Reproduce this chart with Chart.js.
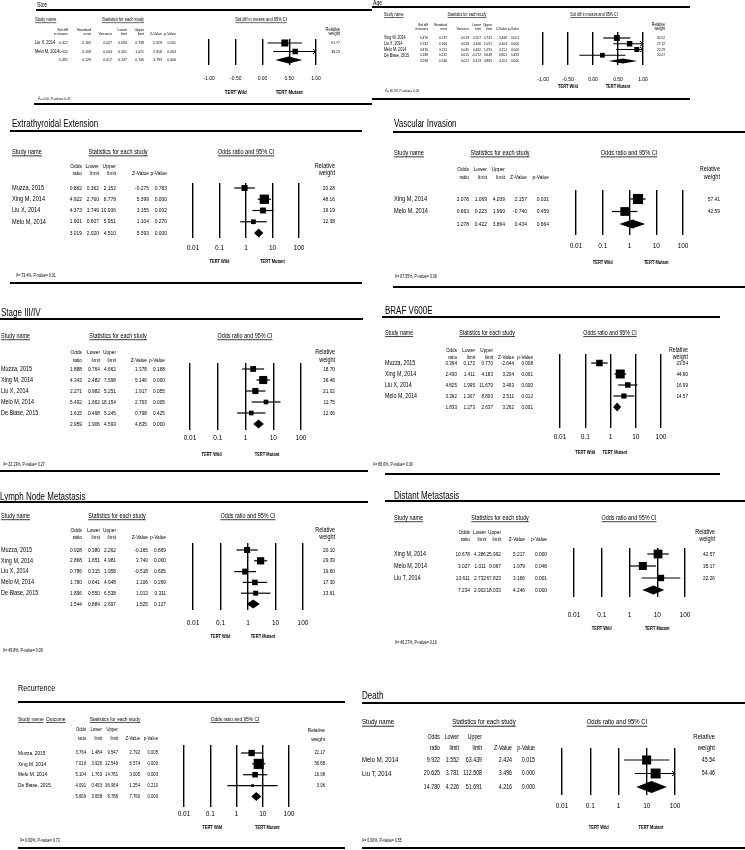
<!DOCTYPE html>
<html>
<head>
<meta charset="utf-8">
<script src="https://cdn.jsdelivr.net/npm/chart.js@4.4.1/dist/chart.umd.min.js"></script>
<style>
  html, body { margin: 0; padding: 0; background: #fff; }
  #page { position: relative; width: 745px; height: 850px; overflow: hidden; }
  #page canvas { position: absolute; left: 0; top: 0; }
</style>
</head>
<body>
<div id="page"></div>
<script>
// ---------- data ----------
// std diff panels: last value of each value array is the summary row
const sizeStudies = ["Liu X, 2014", "Melo M, 2014"];
const sizeSmd = [0.417, 0.611, 0.491];
const sizeSe = [0.165, 0.209, 0.129];
const sizeVar = [0.027, 0.044, 0.017];
const sizeLo = [0.094, 0.201, 0.237];
const sizeHi = [0.739, 1.021, 0.745];
const sizeZ = [2.529, 2.918, 3.793];
const sizeP = [0.011, 0.004, 0.000];
const sizeWeight = [61.77, 38.23];

const ageStudies = ["Xing M, 2014", "Liu X, 2014", "Melo M, 2014", "De Biase, 2015"];
const ageSmd = [0.476, 0.732, 0.876, 0.188, 0.599];
const ageSe = [0.137, 0.166, 0.211, 0.235, 0.146];
const ageVar = [0.019, 0.028, 0.045, 0.055, 0.021];
const ageLo = [0.207, 0.406, 0.462, -0.272, 0.313];
const ageHi = [0.745, 1.057, 1.291, 0.649, 0.885];
const ageZ = [3.468, 4.403, 4.151, 0.801, 4.101];
const ageP = [0.001, 0.000, 0.000, 0.423, 0.000];
const ageWeight = [30.52, 27.12, 22.29, 20.07];

// odds ratio panels
const extraStudies = ["Muzza, 2015", "Xing M, 2014", "Liu X, 2014", "Melo M, 2014"];
const extraOr = [0.882, 4.922, 4.373, 1.901, 3.019];
const extraLo = [0.362, 2.760, 1.749, 0.607, 2.020];
const extraHi = [2.152, 8.778, 10.936, 5.951, 4.510];
const extraZ = [-0.275, 5.399, 3.155, 1.104, 5.393];
const extraP = [0.783, 0.000, 0.002, 0.270, 0.000];
const extraWeight = [20.28, 48.16, 19.19, 12.38];

const vascStudies = ["Xing M, 2014", "Melo M, 2014"];
const vascOr = [2.078, 0.663, 1.278];
const vascLo = [1.069, 0.223, 0.422];
const vascHi = [4.039, 1.969, 3.864];
const vascZ = [2.157, -0.740, 0.434];
const vascP = [0.031, 0.459, 0.664];
const vascWeight = [57.41, 42.59];

const stageStudies = ["Muzza, 2015", "Xing M, 2014", "Liu X, 2014", "Melo M, 2014", "De Biase, 2015"];
const stageOr = [1.888, 4.343, 2.271, 5.492, 1.615, 2.959];
const stageLo = [0.764, 2.482, 0.982, 1.662, 0.498, 1.906];
const stageHi = [4.662, 7.598, 5.251, 18.154, 5.245, 4.593];
const stageZ = [1.378, 5.146, 1.917, 2.793, 0.798, 4.835];
const stageP = [0.168, 0.000, 0.055, 0.005, 0.425, 0.000];
const stageWeight = [18.70, 36.48, 21.02, 11.75, 12.06];

const brafStudies = ["Muzza, 2015", "Xing M, 2014", "Liu X, 2014", "Melo M, 2014"];
const brafOr = [0.364, 2.430, 4.825, 3.392, 1.833];
const brafLo = [0.172, 1.411, 1.995, 1.307, 1.273];
const brafHi = [0.770, 4.183, 11.670, 8.803, 2.637];
const brafZ = [-2.644, 3.204, 3.493, 2.511, 3.262];
const brafP = [0.008, 0.001, 0.000, 0.012, 0.001];
const brafWeight = [23.54, 44.90, 16.99, 14.57];

const lymphStudies = ["Muzza, 2015", "Xing M, 2014", "Liu X, 2014", "Melo M, 2014", "De Biase, 2015"];
const lymphOr = [0.928, 2.868, 0.786, 1.780, 1.896, 1.544];
const lymphLo = [0.380, 1.651, 0.315, 0.641, 0.550, 0.884];
const lymphHi = [2.262, 4.981, 1.958, 4.948, 6.538, 2.697];
const lymphZ = [-0.165, 3.740, -0.518, 1.106, 1.013, 1.525];
const lymphP = [0.869, 0.000, 0.605, 0.269, 0.311, 0.127];
const lymphWeight = [20.10, 29.39, 19.60, 17.30, 13.61];

const distStudies = ["Xing M, 2014", "Melo M, 2014", "Liu T, 2014"];
const distOr = [10.678, 3.027, 13.611, 7.234];
const distLo = [4.386, 1.011, 2.732, 2.902];
const distHi = [25.992, 9.067, 67.823, 18.033];
const distZ = [5.217, 1.979, 3.166, 4.246];
const distP = [0.000, 0.048, 0.001, 0.000];
const distWeight = [42.57, 35.17, 22.26];

const recStudies = ["Muzza, 2015", "Xing M, 2014", "Melo M, 2014", "De Biase, 2015"];
const recOr = [3.764, 7.019, 5.104, 4.091, 5.669];
const recLo = [1.484, 3.926, 1.763, 0.453, 3.658];
const recHi = [9.547, 12.549, 14.781, 36.964, 8.786];
const recZ = [2.792, 6.574, 3.005, 1.254, 7.760];
const recP = [0.005, 0.000, 0.003, 0.210, 0.000];
const recWeight = [22.17, 56.88, 16.98, 3.96];

const deathStudies = ["Melo M, 2014", "Liu T, 2014"];
const deathOr = [9.922, 20.625, 14.780];
const deathLo = [1.552, 3.781, 4.226];
const deathHi = [63.439, 112.508, 51.691];
const deathZ = [2.424, 3.496, 4.216];
const deathP = [0.015, 0.000, 0.000];
const deathWeight = [45.54, 54.46];

// axis ticks
const orTicks = [0.01, 0.1, 1, 10, 100];
const orTickLabels = ["0.01", "0.1", "1", "10", "100"];
const smdTicks = [-1, -0.5, 0, 0.5, 1];
const smdTickLabels = ["-1.00", "-0.50", "0.00", "0.50", "1.00"];

const orHead1 = ["Odds", "Lower", "Upper", "", ""];
const orHead2 = ["ratio", "limit", "limit", "Z-Value", "p-Value"];
const smdHead1 = ["Std diff", "Standard", "", "Lower", "Upper", "", ""];
const smdHead2 = ["in means", "error", "Variance", "limit", "limit", "Z-Value", "p-Value"];

// ---------- drawing ----------
const FONT = '"Liberation Sans", Arial, sans-serif';
const HS = 0.8; // horizontal squeeze, the source uses a narrow face
const AXIS_H = 30;
const page = document.getElementById("page");

function put(ctx, s, x, y, size, align, bold, underline) {
  ctx.save();
  ctx.font = (bold ? "bold " : "") + size + "px " + FONT;
  ctx.textAlign = "left";
  ctx.textBaseline = "middle";
  ctx.fillStyle = "#000";
  const w = ctx.measureText(s).width * HS;
  const x0 = align === "center" ? x - w / 2 : align === "right" ? x - w : x;
  ctx.translate(x0, y);
  ctx.scale(HS, 1);
  ctx.fillText(s, 0, 0);
  ctx.restore();
  if (underline) ctx.fillRect(x0, y + size * 0.5, w, Math.max(0.6, size / 9));
}

function panel(L, names, cols, weights, isLog) {
  const canvas = document.createElement("canvas");
  canvas.width = 745;
  canvas.height = 850;
  page.appendChild(canvas);

  const n = names.length;
  const est = cols[0];
  const lo = isLog ? cols[1] : cols[3];
  const hi = isLog ? cols[2] : cols[4];
  const [pl, pr, pt, pb] = L.plot;
  const yMin = -(L.row0 - pt) / L.step;
  const yMax = n + (pb - (L.row0 + n * L.step)) / L.step;
  const fs = L.fs || 7;
  const fsNum = fs * 0.88;
  const tickFs = L.fsTick || 6.5;
  const xMin = isLog ? 0.01 : -1;
  const xMax = isLog ? 100 : 1;

  const squares = {
    data: names.map((nm, i) => ({ x: est[i], y: i })),
    pointStyle: "rect",
    pointRadius: weights.map(w => (L.sqK || 0.95) * Math.sqrt(w)),
    backgroundColor: "#000",
    borderWidth: 0
  };
  const whiskers = names.map((nm, i) => ({
    data: [{ x: lo[i], y: i }, { x: hi[i], y: i }],
    showLine: true,
    borderColor: "#000",
    borderWidth: 1.2,
    pointRadius: 0
  }));

  const table = {
    id: "table",
    afterDatasetsDraw(chart) {
      const ctx = chart.ctx, xs = chart.scales.x, ys = chart.scales.y;
      ctx.save();
      // summary diamond
      const yc = ys.getPixelForValue(n), h = (L.dH || 9) / 2;
      ctx.fillStyle = "#000";
      ctx.beginPath();
      ctx.moveTo(xs.getPixelForValue(lo[n]), yc);
      ctx.lineTo(xs.getPixelForValue(est[n]), yc - h);
      ctx.lineTo(xs.getPixelForValue(hi[n]), yc);
      ctx.lineTo(xs.getPixelForValue(est[n]), yc + h);
      ctx.closePath();
      ctx.fill();
      // arrows where the interval runs past the axis
      ctx.strokeStyle = "#000";
      ctx.lineWidth = 1;
      for (let i = 0; i < n; i++) {
        if (hi[i] > xMax) {
          const y = ys.getPixelForValue(i), x = chart.chartArea.right;
          ctx.beginPath();
          ctx.moveTo(x - 3, y - 2.5); ctx.lineTo(x, y); ctx.lineTo(x - 3, y + 2.5);
          ctx.stroke();
        }
      }
      ctx.restore();
    },
    afterDraw(chart) {
      const ctx = chart.ctx, xs = chart.scales.x, ys = chart.scales.y;
      ctx.save();
      ctx.fillStyle = "#000";
      put(ctx, L.title, L.tx, L.ty, L.fsT || 10);
      ctx.fillRect(L.rule[0], L.rule[2] - 1, L.rule[1] - L.rule[0], 2);
      if (L.rule2) ctx.fillRect(L.rule2[0], L.rule2[2] - 1, L.rule2[1] - L.rule2[0], 2);

      put(ctx, "Study name", L.studyX, L.hy, fs, "left", false, true);
      if (L.outcomeX) put(ctx, "Outcome", L.outcomeX, L.hy, fs, "left", false, true);
      put(ctx, "Statistics for each study", L.statsC, L.hy, fs, "center", false, true);
      put(ctx, L.ciTitle || "Odds ratio and 95% CI", L.ciC, L.hy, fs, "center", false, true);

      const h1 = isLog ? orHead1 : smdHead1, h2 = isLog ? orHead2 : smdHead2;
      L.colX.forEach((x, c) => {
        if (h1[c]) put(ctx, h1[c], x, L.h1y, fsNum, "right");
        put(ctx, h2[c], x, L.h2y, fsNum, "right");
      });
      put(ctx, "Relative", L.wR, L.h1y, fs, "right");
      put(ctx, "weight", L.wR, L.h2y, fs, "right");

      for (let i = 0; i <= n; i++) {
        const y = ys.getPixelForValue(i);
        if (i < n) {
          put(ctx, names[i], L.studyX, y, fs);
          put(ctx, weights[i].toFixed(2), L.wR, y, fsNum, "right");
        }
        L.colX.forEach((x, c) => put(ctx, cols[c][i].toFixed(3), x, y, fsNum, "right"));
      }

      const tf = L.fsTert || 5;
      put(ctx, "TERT Wild", xs.getPixelForValue(L.tertAt[0]), L.tertY, tf, "center", true);
      put(ctx, "TERT Mutant", xs.getPixelForValue(L.tertAt[1]), L.tertY, tf, "center", true);
      put(ctx, L.foot, L.footX, L.footY, L.fsFoot || 4.5);
      ctx.restore();
    }
  };

  return new Chart(canvas, {
    type: "scatter",
    data: { datasets: [squares, ...whiskers] },
    options: {
      responsive: false,
      animation: false,
      events: [],
      layout: { padding: { left: pl, right: 745 - pr, top: pt, bottom: 850 - pb - AXIS_H } },
      plugins: { legend: { display: false }, tooltip: { enabled: false } },
      scales: {
        x: {
          type: isLog ? "logarithmic" : "linear",
          min: xMin,
          max: xMax,
          afterBuildTicks: s => { s.ticks = (isLog ? orTicks : smdTicks).map(v => ({ value: v })); },
          afterFit: s => { s.height = AXIS_H; },
          grid: { color: "#000", lineWidth: 1.4, drawTicks: false },
          border: { display: false },
          ticks: {
            autoSkip: false,
            maxRotation: 0,
            color: "#000",
            padding: L.axY - pb - tickFs * 0.6,
            font: { family: FONT, size: tickFs },
            callback: (v, i) => (isLog ? orTickLabels : smdTickLabels)[i]
          }
        },
        y: { type: "linear", reverse: true, min: yMin, max: yMax, display: false }
      }
    },
    plugins: [table]
  });
}

// ---------- panels ----------
panel({ title: "Size", tx: 37, ty: 5, fsT: 6.5, rule: [36, 372, 10], rule2: [34, 372, 104],
  hy: 20, studyX: 35, statsC: 123, ciC: 261, ciTitle: "Std diff in means and 95% CI",
  h1y: 30, h2y: 34, colX: [68, 91, 112, 127, 144, 162, 176], wR: 340,
  plot: [209, 316, 39, 65], row0: 43, step: 8.5, axY: 79, tertY: 92, tertAt: [-0.5, 0.5],
  footX: 38, footY: 99, foot: "I²= 0.00, P-value= 0.47",
  fs: 5, fsTick: 5, fsTert: 5.5, fsFoot: 4, sqK: 0.63, dH: 7 },
  sizeStudies, [sizeSmd, sizeSe, sizeVar, sizeLo, sizeHi, sizeZ, sizeP], sizeWeight, false);

panel({ title: "Age", tx: 373, ty: 3, fsT: 6.5, rule: [372, 690, 7], rule2: [372, 690, 99],
  hy: 15, studyX: 384, statsC: 467, ciC: 594, ciTitle: "Std diff in means and 95% CI",
  h1y: 25, h2y: 29, colX: [428, 447, 469, 481, 492, 507, 519], wR: 665,
  plot: [543, 643, 32, 65], row0: 38, step: 5.75, axY: 80, tertY: 87, tertAt: [-0.5, 0.5],
  footX: 385, footY: 91, foot: "I²= 60.93, P-value= 0.05",
  fs: 4.6, fsTick: 5, fsTert: 5, fsFoot: 4, sqK: 0.75, dH: 5 },
  ageStudies, [ageSmd, ageSe, ageVar, ageLo, ageHi, ageZ, ageP], ageWeight, false);

panel({ title: "Extrathyroidal Extension", tx: 12, ty: 124, rule: [10, 362, 131], rule2: [10, 362, 283],
  hy: 152, studyX: 12, statsC: 118, ciC: 246, h1y: 166, h2y: 173,
  colX: [82, 99, 116, 149, 167], wR: 335,
  plot: [193, 299, 183, 238], row0: 188, step: 11.25, axY: 248, tertY: 262, tertAt: [0.1, 10],
  footX: 16, footY: 276, foot: "I²= 73.4%, P-value= 0.01" },
  extraStudies, [extraOr, extraLo, extraHi, extraZ, extraP], extraWeight, true);

panel({ title: "Vascular Invasion", tx: 394, ty: 124, rule: [393, 745, 132], rule2: [393, 745, 287],
  hy: 153, studyX: 394, statsC: 500, ciC: 629, h1y: 169, h2y: 177,
  colX: [469, 487, 505, 527, 549], wR: 720,
  plot: [576, 683, 190, 235], row0: 199, step: 12.5, axY: 246, tertY: 263, tertAt: [0.1, 10],
  footX: 395, footY: 277, foot: "I²= 67.55%, P-value= 0.08" },
  vascStudies, [vascOr, vascLo, vascHi, vascZ, vascP], vascWeight, true);

panel({ title: "Stage III/IV", tx: 1, ty: 313, rule: [0, 363, 319], rule2: [0, 368, 471],
  hy: 336, studyX: 1, statsC: 118, ciC: 245, h1y: 352, h2y: 360,
  colX: [82, 100, 116, 147, 165], wR: 335,
  plot: [190, 301, 363, 430], row0: 369, step: 11, axY: 438, tertY: 455, tertAt: [0.06, 6],
  footX: 3, footY: 465, foot: "I²= 22.13%, P-value= 0.27", fs: 6.8 },
  stageStudies, [stageOr, stageLo, stageHi, stageZ, stageP], stageWeight, true);

panel({ title: "BRAF V600E", tx: 385, ty: 311, rule: [382, 720, 317], rule2: [385, 720, 474],
  hy: 333, studyX: 385, statsC: 487, ciC: 610, h1y: 350, h2y: 357,
  colX: [457, 475, 493, 514, 533], wR: 688,
  plot: [560, 661, 354, 428], row0: 363, step: 11, axY: 437, tertY: 453, tertAt: [0.1, 1.5],
  footX: 373, footY: 465, foot: "I²= 86.0%, P-value= 0.00", fs: 6.6 },
  brafStudies, [brafOr, brafLo, brafHi, brafZ, brafP], brafWeight, true);

panel({ title: "Lymph Node Metastasis", tx: 0, ty: 497, rule: [0, 368, 502], rule2: null,
  hy: 516, studyX: 1, statsC: 117, ciC: 248, h1y: 530, h2y: 537,
  colX: [82, 100, 116, 148, 166], wR: 335,
  plot: [193, 303, 543, 610], row0: 550, step: 10.8, axY: 623, tertY: 637, tertAt: [0.1, 3.5],
  footX: 3, footY: 651, foot: "I²= 49.8%, P-value= 0.09", fs: 6.8 },
  lymphStudies, [lymphOr, lymphLo, lymphHi, lymphZ, lymphP], lymphWeight, true);

panel({ title: "Distant Metastasis", tx: 394, ty: 496, rule: [385, 745, 501], rule2: null,
  hy: 518, studyX: 394, statsC: 500, ciC: 629, h1y: 532, h2y: 539,
  colX: [470, 486, 501, 525, 547], wR: 715,
  plot: [574, 685, 548, 597], row0: 554, step: 12, axY: 615, tertY: 629, tertAt: [0.1, 10],
  footX: 395, footY: 643, foot: "I²= 46.27%, P-value= 0.16", fs: 6.8 },
  distStudies, [distOr, distLo, distHi, distZ, distP], distWeight, true);

panel({ title: "Recurrence", tx: 18, ty: 689, rule: [18, 345, 702], rule2: [18, 345, 848],
  hy: 719, studyX: 18, outcomeX: 46, statsC: 115, ciC: 235, h1y: 730, h2y: 739,
  colX: [86, 102, 118, 140, 158], wR: 325,
  plot: [184, 289, 745, 807], row0: 753, step: 10.85, axY: 814, tertY: 828, tertAt: [0.12, 15],
  footX: 20, footY: 841, foot: "I²= 0.00%, P-value= 0.73", fs: 6, fsT: 9 },
  recStudies, [recOr, recLo, recHi, recZ, recP], recWeight, true);

panel({ title: "Death", tx: 362, ty: 696, rule: [362, 745, 703], rule2: [362, 745, 848],
  hy: 722, studyX: 362, statsC: 484, ciC: 617, h1y: 737, h2y: 748,
  colX: [440, 459, 482, 512, 535], wR: 715,
  plot: [562, 675, 748, 795], row0: 760, step: 13.5, axY: 806, tertY: 828, tertAt: [0.2, 14],
  footX: 362, footY: 841, foot: "I²= 0.00%, P-value= 0.55", fs: 7.5, dH: 12 },
  deathStudies, [deathOr, deathLo, deathHi, deathZ, deathP], deathWeight, true);
</script>
</body>
</html>
